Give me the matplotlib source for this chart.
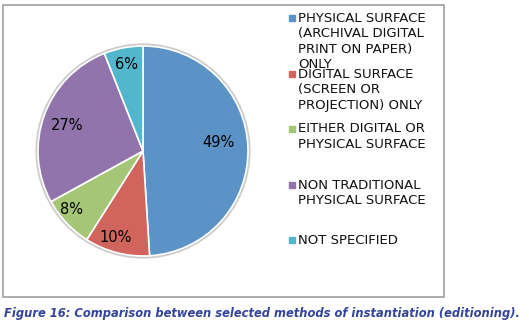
import matplotlib.pyplot as plt
from matplotlib.patches import Rectangle, Circle

labels = ["PHYSICAL SURFACE\n(ARCHIVAL DIGITAL\nPRINT ON PAPER)\nONLY",
          "DIGITAL SURFACE\n(SCREEN OR\nPROJECTION) ONLY",
          "EITHER DIGITAL OR\nPHYSICAL SURFACE",
          "NON TRADITIONAL\nPHYSICAL SURFACE",
          "NOT SPECIFIED"]
shares = [49, 10, 8, 27, 6]
colors = ['#5b93c7', '#d1655d', '#a6c677', '#9174ab', '#52b6cd']
caption = "Figure 16: Comparison between selected methods of instantiation (editioning)."

W, H = 529, 329
fig = plt.figure(figsize=(W / 100, H / 100), dpi=100)
fig.patch.set_facecolor('white')

# chart frame
fig.patches.append(Rectangle((3 / W, 1 - 297 / H), 441 / W, 292 / H,
                             transform=fig.transFigure, fill=False,
                             edgecolor='#a0a0a0', lw=1.2))

cx, cy, r = 143, 151, 105
pad = 1.03
ax = fig.add_axes([(cx - r * pad) / W, 1 - (cy + r * pad) / H,
                   2 * r * pad / W, 2 * r * pad / H])

# soft rim behind the pie
ax.add_patch(Circle((0, 0), 1.018, color='#cccccc', zorder=0))

wedges, texts, autotexts = ax.pie(
    shares, colors=colors, startangle=90, counterclock=False,
    autopct='%d%%', pctdistance=0.8,
    wedgeprops=dict(edgecolor='white', linewidth=1.2),
    textprops=dict(fontsize=10.5, color='black'))
ax.set_xlim(-pad, pad)
ax.set_ylim(-pad, pad)
ax.set_aspect('equal')
ax.axis('off')

# label spots (radius, angle nudge in degrees) per slice
spots = [(0.72, 5), (0.86, -3), (0.88, -4), (0.76, 1), (0.84, 0)]
import math
for t, w, (d, nudge) in zip(autotexts, wedges, spots):
    a = math.radians((w.theta1 + w.theta2) / 2 + nudge)
    t.set_position((d * math.cos(a), d * math.sin(a)))

# legend, one text per line
leg_y = [18, 74, 129, 185, 240]
step = 15.5
for lab, col, y in zip(labels, colors, leg_y):
    fig.patches.append(Rectangle((289 / W, 1 - (y + 3) / H), 6 / W, 6 / H,
                                 transform=fig.transFigure, color=col))
    for i, line in enumerate(lab.split("\n")):
        fig.text(298 / W, 1 - (y + i * step) / H, line, fontsize=9.5,
                 va='center', ha='left', color='#111111')

fig.text(4 / W, 1 - 313 / H, caption, fontsize=8.3, fontweight='bold',
         fontstyle='italic', color='#34449a', va='center', ha='left')

fig.savefig('out.png', dpi=100)
